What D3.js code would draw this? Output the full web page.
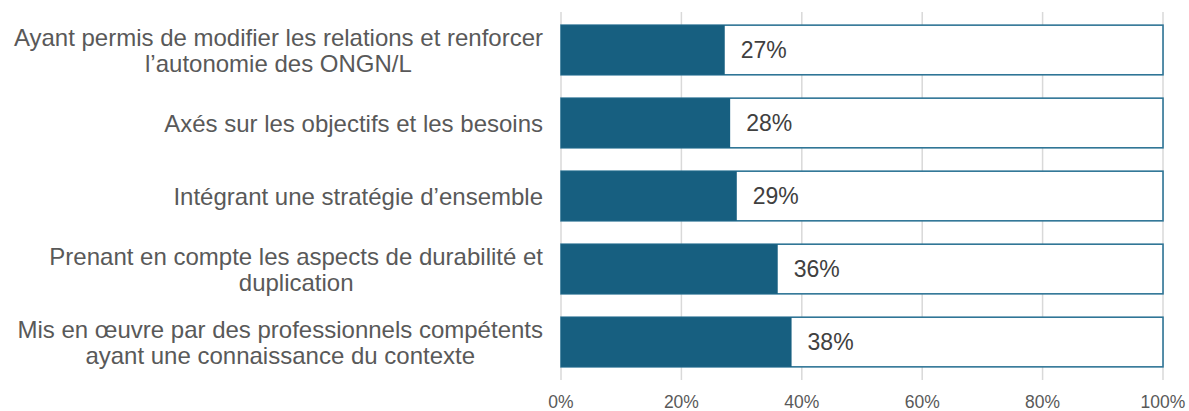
<!DOCTYPE html>
<html><head><meta charset="utf-8">
<script src="https://cdn.jsdelivr.net/npm/d3@7"></script>
<style>body{margin:0;background:#fff}svg{display:block}</style>
</head><body>
<svg id="c" width="1189" height="411"></svg>
<script>
const categories = [
  ["Ayant permis de modifier les relations et renforcer", "l’autonomie des ONGN/L"],
  ["Axés sur les objectifs et les besoins"],
  ["Intégrant une stratégie d’ensemble"],
  ["Prenant en compte les aspects de durabilité et", "duplication"],
  ["Mis en œuvre par des professionnels compétents", "ayant une connaissance du contexte"]
];
const values = [27.2, 28.1, 29.2, 36.0, 38.3];
const labels = ["27%", "28%", "29%", "36%", "38%"];
const ticks = [0, 20, 40, 60, 80, 100];

(function(){
const svg = d3.select("#c");
const pLeft = 561, pRight = 1163, pTop = 12, pBottom = 380;
const x = d3.scaleLinear().domain([0, 100]).range([pLeft, pRight]);
const y = d3.scaleBand().domain(d3.range(categories.length)).range([pTop, pBottom]).paddingInner(0.32).paddingOuter(0.18);

svg.append("g").selectAll("line").data(ticks).join("line")
  .attr("x1", d => x(d)).attr("x2", d => x(d))
  .attr("y1", pTop).attr("y2", pBottom)
  .attr("stroke", "#d9d9d9").attr("stroke-width", 1.5);

svg.append("g").selectAll("text").data(ticks).join("text")
  .attr("x", d => x(d)).attr("y", 408)
  .attr("text-anchor", "middle")
  .attr("font-family", "Liberation Sans, Arial, sans-serif")
  .attr("font-size", 17.5).attr("fill", "#595959")
  .text(d => d + "%");

const g = svg.append("g").selectAll("g").data(values).join("g");
g.append("rect")
  .attr("x", x(0)).attr("y", (d, i) => y(i))
  .attr("width", x(100) - x(0)).attr("height", y.bandwidth())
  .attr("fill", "#fff").attr("stroke", "#2f7596").attr("stroke-width", 1.6);
g.append("rect")
  .attr("x", x(0)).attr("y", (d, i) => y(i))
  .attr("width", d => x(d) - x(0)).attr("height", y.bandwidth())
  .attr("fill", "#175f80");
g.append("text")
  .attr("x", d => x(d) + 16).attr("y", (d, i) => y(i) + y.bandwidth() / 2)
  .attr("dy", "0.36em")
  .attr("font-family", "Liberation Sans, Arial, sans-serif")
  .attr("font-size", 23).attr("fill", "#404040")
  .text((d, i) => labels[i]);

const cl = svg.append("g").selectAll("text").data(categories).join("text")
  .attr("text-anchor", "end")
  .attr("font-family", "Liberation Sans, Arial, sans-serif")
  .attr("font-size", 24).attr("fill", "#595959");
cl.each(function(lines, i) {
  const cy = y(i) + y.bandwidth() / 2;
  const lh = 26;
  const start = cy - (lines.length - 1) * lh / 2;
  lines.forEach((t, j) => {
    d3.select(this).append("tspan")
      .attr("x", 543).attr("y", start + j * lh).attr("dy", "0.36em")
      .text(t);
  });
});
cl.each(function() {
  const sp = d3.select(this).selectAll("tspan").nodes();
  if (sp.length > 1) {
    const w0 = d3.max(sp, s => s.getComputedTextLength());
    const c = 543 - w0 / 2;
    sp.forEach(s => { d3.select(s).attr("x", c); });
    d3.select(this).attr("text-anchor", "middle");
  }
});
})();
</script>
</body></html>
